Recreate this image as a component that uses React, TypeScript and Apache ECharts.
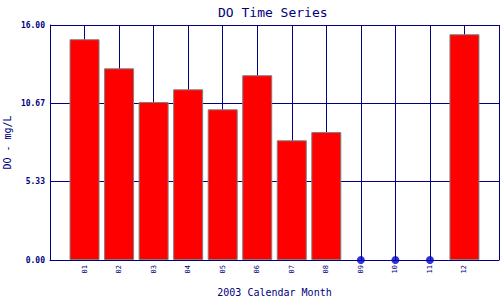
import React, { useEffect, useRef } from "react";
import * as echarts from "echarts";

const categories = ["01", "02", "03", "04", "05", "06", "07", "08", "09", "10", "11", "12"];
const doValues: (number | null)[] = [15.03, 13.05, 10.76, 11.62, 10.26, 12.58, 8.15, 8.71, null, null, null, 15.37];
const missingMonths = ["09", "10", "11"];
const yTicks = [0, 16 / 3, 32 / 3, 16];

const NAVY = "#000080";
const MONO = "'DejaVu Sans Mono', 'Liberation Mono', monospace";

export default function App() {
  const ref = useRef<HTMLDivElement>(null);
  useEffect(() => {
    if (!ref.current) return;
    const chart = echarts.init(ref.current, undefined, { renderer: "svg" });
    const barData = doValues
      .map((v, i) => (v === null ? null : [i + 1, v]))
      .filter((d) => d !== null);
    const dotData = missingMonths.map((m) => [categories.indexOf(m) + 1, 0]);
    chart.setOption({
      animation: false,
      backgroundColor: "#ffffff",
      title: {
        text: "DO Time Series",
        left: 213,
        top: 1,
        textStyle: { fontFamily: MONO, fontSize: 13, fontWeight: "normal", color: NAVY },
      },
      grid: { left: 50, right: 1, top: 25, bottom: 40, containLabel: false, outerBoundsMode: "none" },
      xAxis: {
        type: "value",
        min: 0,
        max: categories.length + 1,
        interval: 1,
        name: "2003 Calendar Month",
        nameLocation: "middle",
        nameGap: 27,
        nameMoveOverlap: false,
        nameTextStyle: { fontFamily: MONO, fontSize: 10, color: NAVY },
        axisLine: { show: true, lineStyle: { color: NAVY, width: 1 } },
        axisTick: { show: false },
        splitLine: { show: true, lineStyle: { color: NAVY, width: 1 } },
        axisLabel: {
          rotate: 90,
          margin: 5,
          fontFamily: MONO,
          fontSize: 7,
          color: NAVY,
          showMinLabel: false,
          showMaxLabel: false,
          formatter: (v: number) => categories[v - 1] ?? "",
        },
      },
      yAxis: {
        type: "value",
        min: 0,
        max: 16,
        interval: 16 / 3,
        name: "DO - mg/L",
        nameLocation: "middle",
        nameGap: 38,
        nameMoveOverlap: false,
        nameTextStyle: { fontFamily: MONO, fontSize: 10, color: NAVY },
        axisLine: { show: true, lineStyle: { color: NAVY, width: 1 } },
        axisTick: { show: false },
        splitLine: { show: true, lineStyle: { color: NAVY, width: 1 } },
        axisLabel: {
          margin: 5,
          fontFamily: MONO,
          fontSize: 8,
          fontWeight: "bold",
          color: NAVY,
          formatter: (v: number) => {
            const near = yTicks.find((t) => Math.abs(t - v) < 1e-6);
            return (near ?? v).toFixed(2);
          },
        },
      },
      series: [
        {
          type: "bar",
          data: barData,
          barWidth: 30,
          itemStyle: { color: "#ff0000", borderColor: "#808080", borderWidth: 1 },
        },
        {
          type: "scatter",
          data: dotData,
          symbol: "circle",
          symbolSize: 8,
          clip: false,
          itemStyle: { color: "#0000cc" },
        },
      ],
    });
    return () => chart.dispose();
  }, []);
  return (
    <div
      ref={ref}
      style={{ position: "fixed", left: 0, top: 0, width: 500, height: 300, background: "#fff" }}
    />
  );
}
